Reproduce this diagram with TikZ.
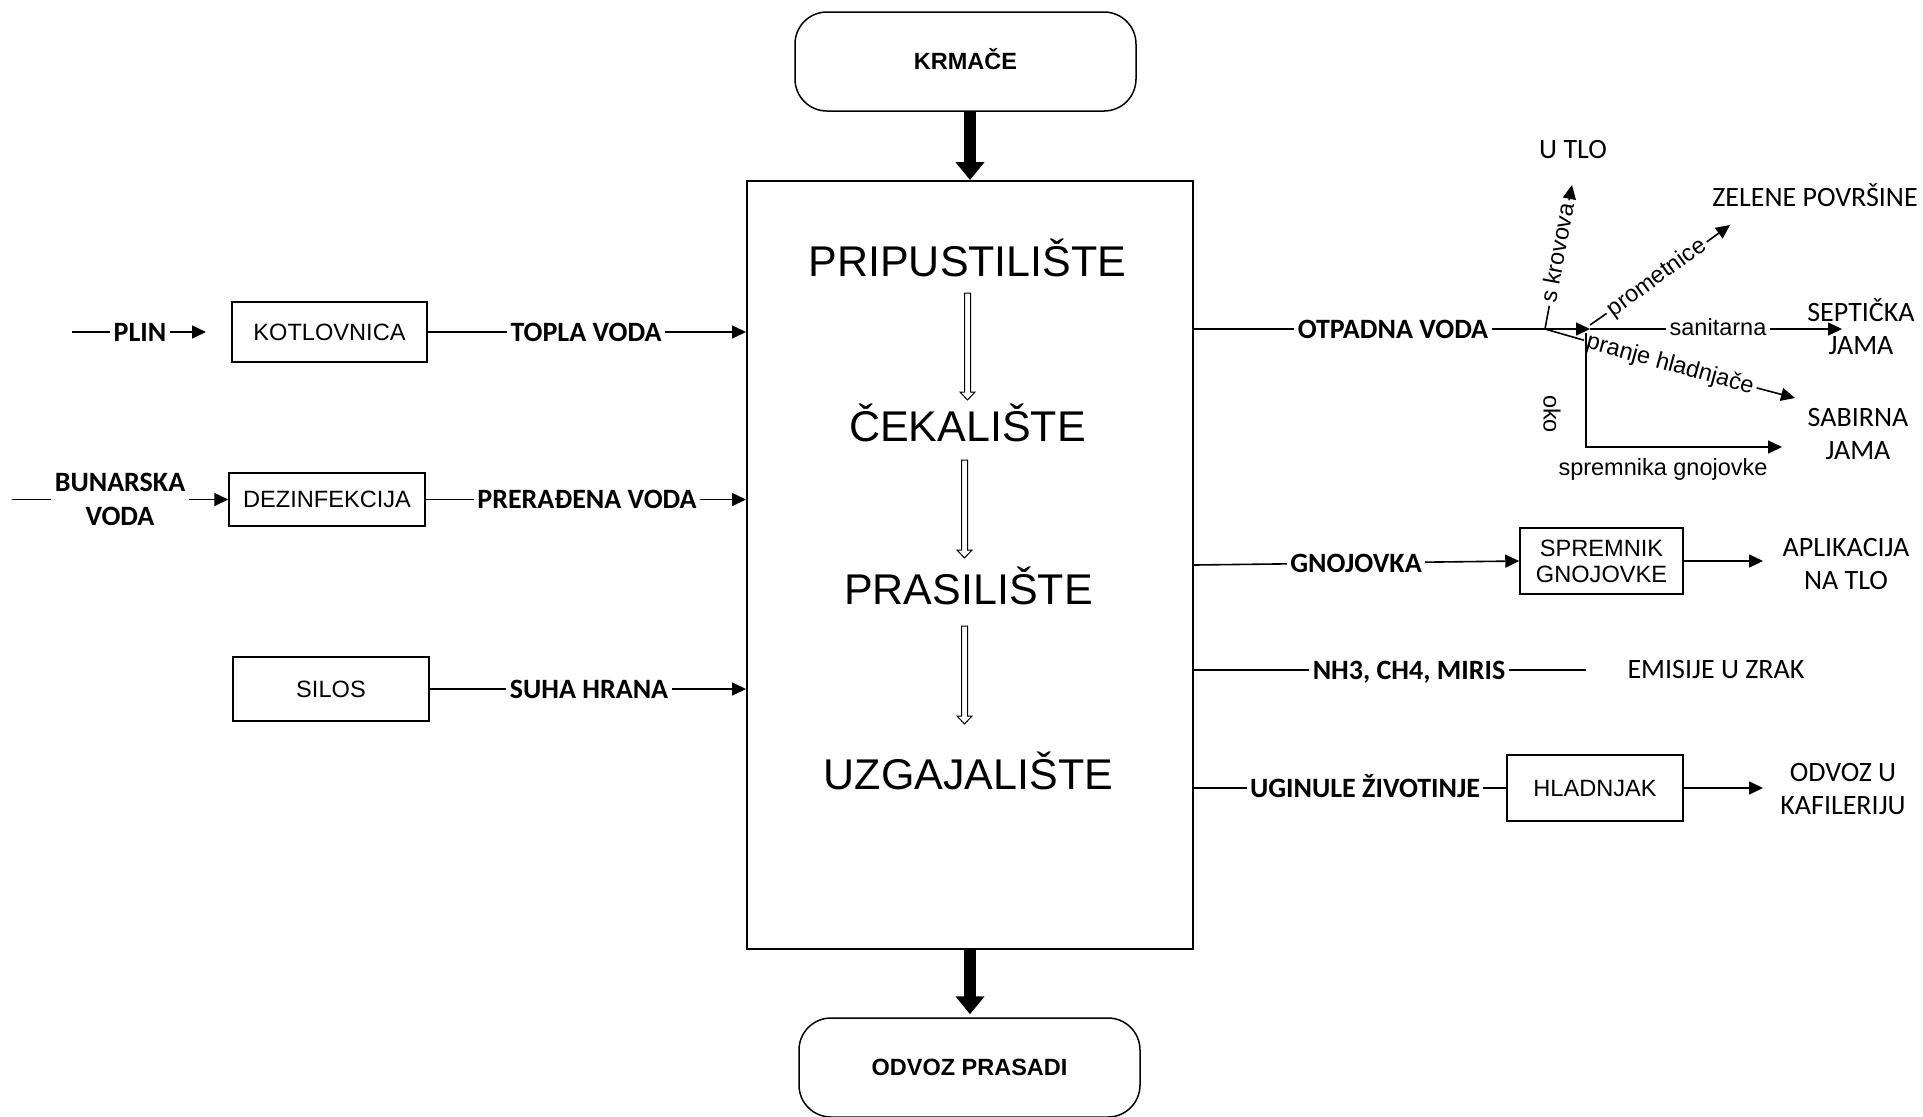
\documentclass[tikz,border=0pt]{standalone}
\usepackage{fontspec}
\setmainfont{Liberation Sans}
\newfontfamily\calib{Carlito}
\usetikzlibrary{arrows.meta,calc}
\newcommand\hollowarr[3]{%
  \draw[hollowline] (#1-3,#2) -- (#1-3,#3-8) -- (#1-7.5,#3-8) -- (#1,#3) -- (#1+7.5,#3-8) -- (#1+3,#3-8) -- (#1+3,#2) -- cycle;}
\begin{document}
\begin{tikzpicture}[x=0.5pt,y=-0.5pt,
  conn/.style={line width=0.8pt},
  arr/.style={line width=0.8pt,-{Triangle[width=6.5pt,length=7pt]}},
  bigarr/.style={line width=6pt,-{Triangle[width=14pt,length=9pt]}},
  hollowline/.style={line width=0.5pt,fill=white},
  stage/.style={font=\fontsize{21.5}{25}\selectfont,anchor=base,inner sep=0pt},
  boxx/.style={draw,line width=0.75pt,font=\fontsize{11.8}{13}\selectfont,align=center,inner sep=0pt},
  rbox/.style={draw,line width=0.75pt,rounded corners=16pt,font=\fontsize{11.75}{14}\bfseries\selectfont,minimum width=170.5pt,minimum height=49.5pt,text height=8.4pt,text depth=0pt,inner sep=0pt},
  lbl/.style={font=\calib\bfseries\fontsize{14}{17}\selectfont,inner xsep=1.5pt,inner ysep=0pt,text height=9pt,text depth=0pt},
  lbltwo/.style={font=\calib\bfseries\fontsize{14}{17}\selectfont,inner xsep=1.5pt,inner ysep=0pt,align=center},
  elbl/.style={font=\fontsize{11.75}{14}\selectfont,inner xsep=1.5pt,inner ysep=0pt,text height=6.1pt,text depth=0pt},
  smalltxt/.style={font=\fontsize{11.75}{14}\selectfont,inner sep=0pt},
  ext/.style={font=\calib\fontsize{14}{16.5}\selectfont,align=center,inner sep=0pt}
]
\useasboundingbox (0,0) rectangle (1923,1116);

% central block
\node[draw,line width=1pt,minimum width=223pt,minimum height=384pt,inner sep=0pt] (main) at (970,565) {};
\node[rbox] (krm) at (965.5,61.5) {KRMAČE};
\node[rbox] (odv) at (969.5,1067.5) {ODVOZ PRASADI};
\draw[bigarr] (main.north |- krm.south) -- (main.north);
\draw[bigarr] (main.south) -- ([yshift=1.5pt]main.south |- odv.north);

\node[stage] (s1) at (967.5,276) {PRIPUSTILIŠTE};
\node[stage] (s2) at (967.5,441) {ČEKALIŠTE};
\node[stage] (s3) at (968.5,604) {PRASILIŠTE};
\node[stage] (s4) at (968.5,789) {UZGAJALIŠTE};
\hollowarr{967.5}{293}{400}
\hollowarr{964.5}{460}{558}
\hollowarr{964.5}{626}{724}

% left inputs
\node[boxx,minimum width=97.5pt,minimum height=30pt] (kotl) at (329.5,332) {KOTLOVNICA};
\node[boxx,minimum width=98pt,minimum height=26.5pt] (dez) at (327,499.5) {DEZINFEKCIJA};
\node[boxx,minimum width=98pt,minimum height=32pt] (silos) at (331,689) {SILOS};

\coordinate (plin0) at (72,332);
\node[lbl] (plin) at (140,332) {PLIN};
\coordinate (plin1) at (206,332);
\draw[arr] (plin0) -- (plin) -- (plin1);

\node[lbl] (topla) at (586,332) {TOPLA VODA};
\draw[arr] (kotl.east) -- (topla) -- (main.west |- topla);

\coordinate (bun0) at (12,499.5);
\node[lbltwo] (bun) at (120,499.5) {BUNARSKA\\VODA};
\draw[arr] (bun0) -- (bun) -- (dez.west);

\node[lbl] (prer) at (587,499.5) {PRERAĐENA VODA};
\draw[arr] (dez.east) -- (prer) -- (main.west |- prer);

\node[lbl] (suha) at (589,689) {SUHA HRANA};
\draw[arr] (silos.east) -- (suha) -- (main.west |- suha);

% right: waste water
\node[lbl] (otp) at (1393,329) {OTPADNA VODA};
\coordinate (jn) at (1545,329);
\coordinate (jn2) at (1590,329);
\draw[conn] (main.east |- otp) -- (otp) -- (jn);
\draw[arr] (jn) -- (jn2);

\node[elbl] (sanit) at (1718,329) {sanitarna};
\coordinate (septtip) at (1842,329);
\draw[arr] (jn2) -- (sanit) -- (septtip);

\node[elbl,rotate=36] (promet) at (1657,278) {prometnice};
\coordinate (zeltip) at (1730,225);
\draw[arr] ([yshift=2pt]jn2) -- (promet) -- (zeltip);

\node[elbl,rotate=79.5] (krov) at (1559,253) {s krovova};
\coordinate (utltip) at (1572,185);
\draw[arr] (jn) -- (krov) -- (utltip);

\node[elbl,rotate=-15.4] (pranje) at (1670,365) {pranje hladnjače};
\coordinate (sabtip) at (1795,398);
\draw[arr] (jn) -- (pranje) -- (sabtip);

\coordinate (okotop) at (1586,333);
\coordinate (okotip) at (1782,447);
\draw[arr] (okotop) |- (okotip);
\node[smalltxt,rotate=-90] (oko) at (1552,414) {oko};
\node[smalltxt,anchor=base] (spg) at (1663,475) {spremnika gnojovke};

\node[ext,anchor=base] (utlo) at (1573,158.5) {U TLO};
\node[ext,anchor=base] (zel) at (1815,206) {ZELENE POVRŠINE};
\node[ext] (sept) at (1861,338) {\smash{SEPTIČKA}\\\smash{JAMA}};
\node[ext] (sab) at (1858,442.5) {\smash{SABIRNA}\\\smash{JAMA}};

% right: slurry
\node[lbl] (gnoj) at (1356,563) {GNOJOVKA};
\node[boxx,minimum width=81.5pt,minimum height=33pt] (sprem) at (1601.5,561) {SPREMNIK\\GNOJOVKE};
\draw[arr] ([yshift=-1pt]main.east |- gnoj) -- (gnoj) -- (sprem.west);
\coordinate (apltip) at (1763,561);
\draw[arr] (sprem.east) -- (apltip);
\node[ext] (apl) at (1846,573) {\smash{APLIKACIJA}\\\smash{NA TLO}};

% right: emissions
\node[lbl] (nh) at (1409,670) {NH3, CH4, MIRIS};
\coordinate (nhend) at (1586,670);
\draw[conn] (main.east |- nh) -- (nh) -- (nhend);
\node[ext,anchor=base] (emis) at (1716,678) {EMISIJE U ZRAK};

% right: dead animals
\node[lbl] (ugin) at (1365,788) {UGINULE ŽIVOTINJE};
\node[boxx,minimum width=88pt,minimum height=33pt] (hlad) at (1595,788) {HLADNJAK};
\draw[conn] (main.east |- ugin) -- (ugin) -- (hlad.west);
\coordinate (odvtip) at (1763,788);
\draw[arr] (hlad.east) -- (odvtip);
\node[ext] (kaf) at (1843,798) {\smash{ODVOZ U}\\\smash{KAFILERIJU}};
\end{tikzpicture}
\end{document}
